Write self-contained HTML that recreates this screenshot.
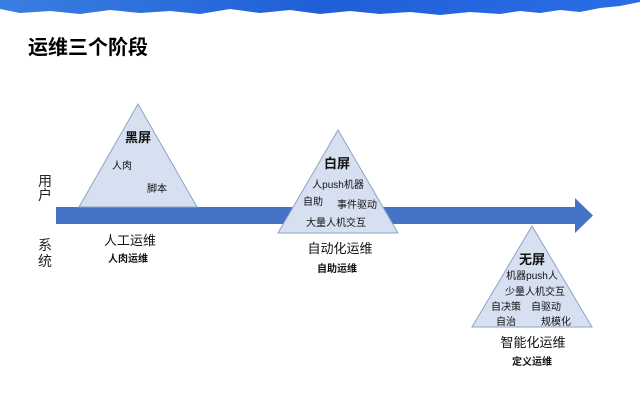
<!DOCTYPE html>
<html><head><meta charset="utf-8"><style>
body{margin:0;width:640px;height:408px;overflow:hidden;background:#fff;font-family:"Liberation Sans","Noto Sans CJK SC",sans-serif;}
svg text{font-family:"Liberation Sans","Noto Sans CJK SC",sans-serif;}
</style></head><body>
<svg width="640" height="408" viewBox="0 0 640 408">
<defs>
<linearGradient id="sky" x1="0" y1="0" x2="1" y2="0">
<stop offset="0" stop-color="#3a7fe0"/><stop offset="0.5" stop-color="#1f5fd8"/><stop offset="1" stop-color="#2a6ee6"/>
</linearGradient>
</defs>
<path d="M0 0H640V2 L620 6 L600 8 L580 12 L560 10 L540 13 L520 11 L500 14 L470 12 L440 15 L410 12 L380 14 L350 11 L320 14 L290 10 L260 13 L230 9 L200 14 L170 11 L140 13 L110 10 L80 14 L50 11 L20 13 L0 9Z" fill="url(#sky)"/>
<text x="28" y="54" font-size="20" font-weight="bold" fill="#000">运维三个阶段</text>
<polygon points="56,207 575,207 575,198 593,215.5 575,233 575,224 56,224" fill="#4472c4"/>
<g fill="#d6e0f0" stroke="#8fa3c6" stroke-width="1">
<polygon points="138,104 197,207 79,207"/>
<polygon points="338,130 398,233 278,233"/>
<polygon points="532,226 592,327 472,327"/>
</g>
<g font-size="14" fill="#222">
<text x="38" y="186">用</text><text x="38" y="200">户</text>
<text x="38" y="250">系</text><text x="38" y="266">统</text>
</g>
<g text-anchor="middle" fill="#111">
<text x="138" y="142" font-size="13" font-weight="bold">黑屏</text>
<text x="122" y="169" font-size="10">人肉</text>
<text x="157" y="192" font-size="10">脚本</text>
<text x="130" y="245" font-size="13">人工运维</text>
<text x="128" y="262" font-size="10" font-weight="bold">人肉运维</text>

<text x="337" y="168" font-size="13" font-weight="bold">白屏</text>
<text x="338" y="188" font-size="10">人push机器</text>
<text x="313" y="205" font-size="10">自助</text>
<text x="357" y="208" font-size="10">事件驱动</text>
<text x="336" y="226" font-size="10">大量人机交互</text>
<text x="340" y="253" font-size="13">自动化运维</text>
<text x="337" y="272" font-size="10" font-weight="bold">自助运维</text>

<text x="532" y="264" font-size="13" font-weight="bold">无屏</text>
<text x="532" y="279" font-size="10">机器push人</text>
<text x="535" y="295" font-size="10">少量人机交互</text>
<text x="506" y="310" font-size="10">自决策</text>
<text x="546" y="310" font-size="10">自驱动</text>
<text x="506" y="325" font-size="10">自治</text>
<text x="556" y="325" font-size="10">规模化</text>
<text x="533" y="347" font-size="13">智能化运维</text>
<text x="532" y="365" font-size="10" font-weight="bold">定义运维</text>
</g>
</svg>
</body></html>
